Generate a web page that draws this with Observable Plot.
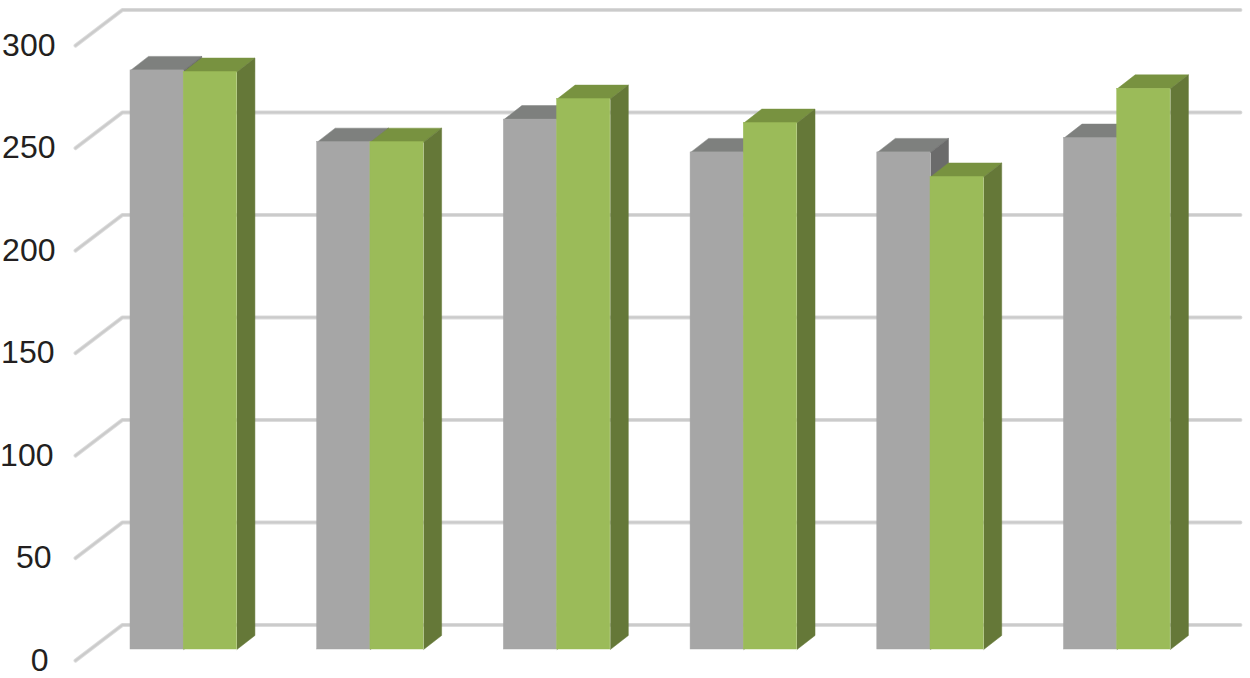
<!DOCTYPE html>
<html>
<head>
<meta charset="utf-8">
<script src="https://cdn.jsdelivr.net/npm/d3@7"></script>
<script src="https://cdn.jsdelivr.net/npm/@observablehq/plot@0.6"></script>
<style>
html,body{margin:0;padding:0;background:#fff;overflow:hidden}
svg{display:block}
</style>
</head>
<body>
<div id="chart"></div>
<script>
const groups = [0, 1, 2, 3, 4, 5];
const grayValues = [282.5, 247.5, 258.5, 242.5, 242.5, 249.5];
const greenValues = [281.7, 247.5, 268.5, 256.8, 230.5, 273.5];
const ticks = [0, 50, 100, 150, 200, 250, 300];
const tickLabelEnd = [48, 51, 53, 54, 55, 55, 55];

const unit = 186.7;
const barWidth = 0.285, depthX = 0.0964, depthY = 6.83;
const backRise = 12, frontDrop = -5.4;
const wallLeft = -0.0428, wallFrontLeft = -0.2945, wallRight = 5.945;

function faces(values, offset) {
  const top = [], side = [], front = [];
  groups.forEach((g, i) => {
    const v = values[i], a = g + offset, b = a + barWidth;
    front.push({a, b, v});
    [[a, v], [a + depthX, v + depthY], [b + depthX, v + depthY], [b, v]]
      .forEach(([x, y]) => top.push({id: i, x, y}));
    [[b, 0], [b + depthX, depthY], [b + depthX, v + depthY], [b, v]]
      .forEach(([x, y]) => side.push({id: i, x, y}));
  });
  return {top, side, front};
}
function barMarks(values, offset, c) {
  const f = faces(values, offset);
  return [
    Plot.line(f.top, {x: "x", y: "y", z: "id", fill: c.top, stroke: c.top, strokeWidth: 0.5}),
    Plot.line(f.side, {x: "x", y: "y", z: "id", fill: c.side, stroke: c.side, strokeWidth: 0.5}),
    Plot.rect(f.front, {x1: "a", x2: "b", y1: 0, y2: "v", fill: c.front, stroke: c.front, strokeWidth: 0.5})
  ];
}
const grid = ticks.flatMap(t => [
  {t, x: wallFrontLeft, y: t + frontDrop},
  {t, x: wallLeft, y: t + backRise},
  {t, x: wallRight, y: t + backRise}
]);

const chart = Plot.plot({
  width: 1250,
  height: 678,
  margin: 0,
  x: {axis: null, domain: [-130 / unit, 1120 / unit], range: [0, 1250]},
  y: {axis: null, domain: [-14.15, 316.6], range: [678, 0]},
  marks: [
    Plot.line(grid, {x: "x", y: "y", z: "t", stroke: "#dcdcdc", strokeWidth: 4}),
    Plot.line(grid, {x: "x", y: "y", z: "t", stroke: "#cbcbcb", strokeWidth: 2.2}),
    ...barMarks(grayValues, 0, {front: "#a6a6a6", top: "#7e807e", side: "#6b6b6b"}),
    ...barMarks(greenValues, 0.285, {front: "#9bbb59", top: "#789240", side: "#657838"}),
    Plot.text(ticks.map((t, i) => ({t, i})), {
      x: d => (tickLabelEnd[d.i] - 130) / unit,
      y: d => d.t - 5.4,
      text: d => String(d.t),
      textAnchor: "end",
      fontSize: 32,
      fontFamily: "Liberation Sans",
      fill: "#231f20"
    })
  ]
});
document.getElementById("chart").append(chart);
</script>
</body>
</html>
